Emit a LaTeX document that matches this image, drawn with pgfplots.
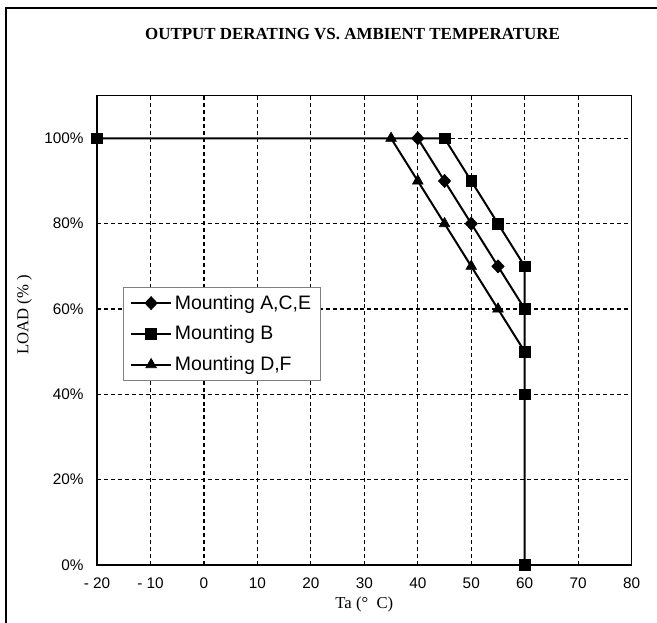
\documentclass[border=0pt]{standalone}
\usepackage{fontspec}
\setmainfont{Liberation Serif}
\newfontfamily\arial{Liberation Sans}
\usepackage{pgfplots}
\pgfplotsset{compat=1.18}

\begin{document}
\begin{tikzpicture}
\begin{axis}[
  scale only axis, width=401pt, height=352pt,
  xmin=-20, xmax=80, ymin=0, ymax=110,
  xtick={-20,-10,...,80}, ytick={0,20,...,100},
  xticklabels={- 20,- 10,0,10,20,30,40,50,60,70,80},
  yticklabels={0\%,20\%,40\%,60\%,80\%,100\%},
  /pgf/number format/assume math mode=true,
  tick label style={font=\arial\fontsize{11.5}{13}\selectfont},
  major tick length=0pt,
  xticklabel style={yshift=-6pt},
  yticklabel style={xshift=-6.5pt},
  grid=major,
  major grid style={black, line width=0.9pt, dash pattern=on 3pt off 2.2pt},
  axis line style={line width=1pt},
  clip=false,
  title={OUTPUT DERATING VS. AMBIENT TEMPERATURE},
  title style={font=\bfseries\fontsize{12.7}{14}\selectfont, at={(axis description cs:0.478,1.115)}, anchor=center, yshift=0pt},
  xlabel={Ta (\textdegree\ \ C)},
  xlabel style={font=\fontsize{12.5}{14}\selectfont, at={(axis description cs:0.5,-0.085)}, anchor=center},
  ylabel={LOAD (\% )},
  ylabel style={font=\fontsize{12.5}{14}\selectfont, at={(axis description cs:-0.136,0.533)}, anchor=center},
  legend style={at={(axis cs:-15.1,65.2)}, anchor=north west, draw=gray, fill=white,
    font=\arial\fontsize{14.6}{16}\selectfont, row sep=7pt, inner xsep=5pt, inner ysep=4pt,
    nodes={inner sep=2pt}},
  legend cell align=left,
  legend image code/.code={\draw[#1, mark indices={2}] plot coordinates {(0pt,0pt) (15pt,0pt) (30pt,0pt)};},
  every axis plot/.append style={black, line width=1.5pt, mark options={solid, fill=black, line width=0.5pt}},
]
\addplot[mark=diamond*, mark size=4.2pt, mark options={xscale=1.25}, mark indices={1,2,3,4}] coordinates {
  (40,100) (45,90) (50,80) (55,70) (60,60)};
\addlegendentry{Mounting A,C,E}
\addplot[mark=square*, mark size=4pt] coordinates {
  (-20,100) (45,100) (50,90) (55,80) (60,70) (60,60) (60,50) (60,40) (60,0)};
\addlegendentry{Mounting B}
\addplot[mark=triangle*, mark size=4.6pt, mark indices={1,2,3,4,5}] coordinates {
  (35,100) (40,90) (45,80) (50,70) (55,60) (60,50)};
\addlegendentry{Mounting D,F}
\draw[line width=2pt] (rel axis cs:0,0) -- (rel axis cs:1,0);
\end{axis}
\draw[line width=1.5pt] (-68.25pt,-60pt) -- (-68.25pt,417.75pt) -- (440pt,417.75pt);
\pgfresetboundingbox
\useasboundingbox (-72.75pt,-42.75pt) rectangle (420pt,423.75pt);
\end{tikzpicture}
\end{document}
